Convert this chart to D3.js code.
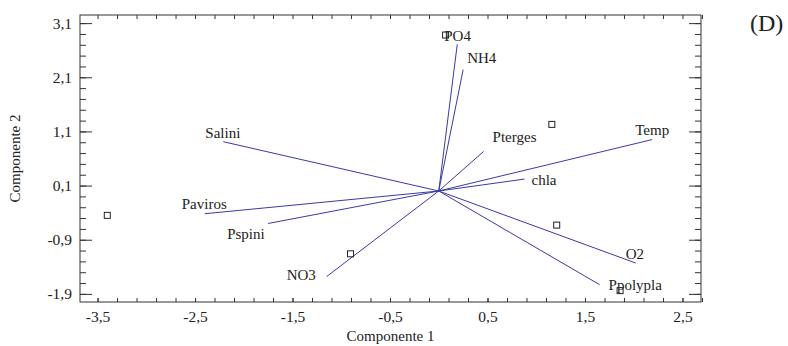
<!DOCTYPE html>
<html>
<head>
<meta charset="utf-8">
<script src="https://cdn.jsdelivr.net/npm/d3@7"></script>
<style>
  body { margin: 0; background: #fff; }
  svg text { font-family: "Liberation Serif", "Times New Roman", serif; fill: #222; }
  .axis path { stroke: none; }
  .axis line { stroke: #333; }
  .axis text { font-size: 15.5px; font-family: "Liberation Serif", "Times New Roman", serif; }
</style>
</head>
<body>
<svg class="chart"></svg>
<script>
// loadings (vectors from origin)
var varNames = ["Salini", "Paviros", "Pspini", "NO3", "PO4", "NH4", "Pterges", "Temp", "chla", "O2", "Ppolypla"];
var varComp1 = [-2.21, -2.40, -1.75, -1.15, 0.19, 0.25, 0.46, 2.19, 0.88, 2.02, 1.65];
var varComp2 = [0.91, -0.42, -0.60, -1.58, 2.71, 2.24, 0.73, 0.95, 0.22, -1.33, -1.73];

// observations (squares)
var obsComp1 = [0.07, 1.16, 1.21, 1.86, -3.40, -0.905];
var obsComp2 = [2.88, 1.23, -0.63, -1.84, -0.45, -1.16];

// axis ticks
var xTicks = [-3.5, -2.5, -1.5, -0.5, 0.5, 1.5, 2.5];
var yTicks = [-1.9, -0.9, 0.1, 1.1, 2.1, 3.1];

// label placement, pixel offset from vector end to text start/baseline
var labelShift = {
  Salini: [-18, -4], Paviros: [-23, -5], Pspini: [-41, 16], NO3: [-40, 3],
  PO4: [-13, -3], NH4: [4, -7], Pterges: [9, -9], Temp: [-17, -5],
  chla: [7, 6], O2: [-10, -4], Ppolypla: [9, 5]
};

var Width = 788, Height = 346;
var plotL = 80, plotR = 701, plotT = 15, plotB = 302;

var svg = d3.select(".chart").attr("width", Width).attr("height", Height);

var x = d3.scaleLinear().domain([-3.68, 2.69]).range([plotL, plotR]);
var y = d3.scaleLinear().domain([-2.05, 3.25]).range([plotB, plotT]);

var loc = d3.formatLocale({decimal: ",", thousands: ".", grouping: [3], currency: ["", ""], minus: "-"});
var fmt = loc.format(".1f");

var xMinor = d3.range(-3.5, 2.71, 0.2);
var yMinor = d3.range(-1.9, 3.2, 0.2);

// bottom axis
svg.append("g").attr("class", "axis")
   .attr("transform", "translate(0," + plotB + ")")
   .call(d3.axisBottom(x).tickValues(xMinor).tickSize(-4).tickFormat(""));
svg.append("g").attr("class", "axis")
   .attr("transform", "translate(0," + plotB + ")")
   .call(d3.axisBottom(x).tickValues(xTicks).tickSize(-4).tickPadding(9).tickFormat(fmt));
// top axis
svg.append("g").attr("class", "axis")
   .attr("transform", "translate(0," + plotT + ")")
   .call(d3.axisTop(x).tickValues(xMinor).tickSize(-4).tickFormat(""));

// left axis
svg.append("g").attr("class", "axis")
   .attr("transform", "translate(" + plotL + ",0)")
   .call(d3.axisLeft(y).tickValues(yMinor).tickSize(-6).tickFormat(""));
svg.append("g").attr("class", "axis")
   .attr("transform", "translate(" + plotL + ",0)")
   .call(d3.axisLeft(y).tickValues(yTicks).tickSize(-12).tickPadding(8).tickFormat(fmt));
// right axis
svg.append("g").attr("class", "axis")
   .attr("transform", "translate(" + plotR + ",0)")
   .call(d3.axisRight(y).tickValues(yMinor).tickSize(-6).tickFormat(""));
svg.append("g").attr("class", "axis")
   .attr("transform", "translate(" + plotR + ",0)")
   .call(d3.axisRight(y).tickValues(yTicks).tickSize(-12).tickFormat(""));

// frame
svg.append("rect")
   .attr("x", plotL).attr("y", plotT)
   .attr("width", plotR - plotL).attr("height", plotB - plotT)
   .attr("fill", "none").attr("stroke", "#333").attr("stroke-width", 1);

// vectors
var vecs = varNames.map(function(d, i) { return {name: d, c1: varComp1[i], c2: varComp2[i]}; });

svg.selectAll("line.vec")
   .data(vecs)
   .enter().append("line")
   .attr("class", "vec")
   .attr("x1", x(0)).attr("y1", y(0))
   .attr("x2", function(d) { return x(d.c1); })
   .attr("y2", function(d) { return y(d.c2); })
   .attr("stroke", "#3a3aa6")
   .attr("stroke-width", 1);

svg.selectAll("text.lab")
   .data(vecs)
   .enter().append("text")
   .attr("class", "lab")
   .attr("x", function(d) { return x(d.c1) + labelShift[d.name][0]; })
   .attr("y", function(d) { return y(d.c2) + labelShift[d.name][1]; })
   .attr("font-size", "15px")
   .text(function(d) { return d.name; });

// observations
svg.selectAll("rect.obs")
   .data(obsComp1)
   .enter().append("rect")
   .attr("class", "obs")
   .attr("x", function(d) { return x(d) - 3; })
   .attr("y", function(d, i) { return y(obsComp2[i]) - 3; })
   .attr("width", 6).attr("height", 6)
   .attr("fill", "none").attr("stroke", "#222").attr("stroke-width", 1);

// axis titles
svg.append("text")
   .attr("x", (plotL + plotR) / 2).attr("y", 341)
   .attr("text-anchor", "middle").attr("font-size", "15px")
   .text("Componente 1");

svg.append("text")
   .attr("transform", "translate(20," + ((plotT + plotB) / 2) + ") rotate(-90)")
   .attr("text-anchor", "middle").attr("font-size", "15px")
   .text("Componente 2");

svg.append("text")
   .attr("x", 750).attr("y", 31)
   .attr("font-size", "24px")
   .text("(D)");
</script>
</body>
</html>
